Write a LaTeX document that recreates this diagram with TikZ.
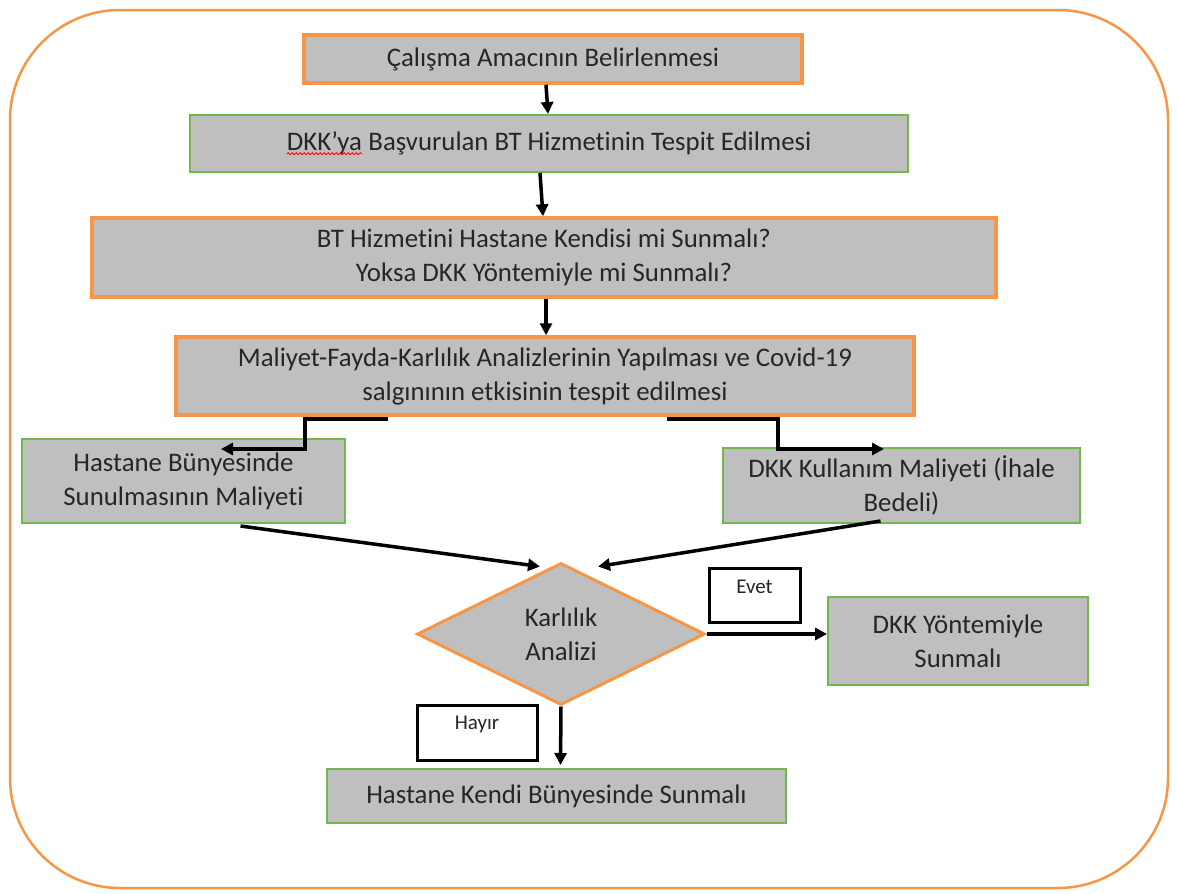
\documentclass[tikz,border=0pt]{standalone}
\usepackage{fontspec}
\setmainfont{Carlito}[Ligatures=NoCommon]
\usetikzlibrary{shapes.geometric,arrows.meta,calc,decorations.pathmorphing}
\definecolor{org}{HTML}{F79646}
\definecolor{grn}{HTML}{72B84C}
\definecolor{boxgray}{HTML}{BFBFBF}
\definecolor{txt}{HTML}{262626}
\newcommand{\wavyword}[1]{\tikz[baseline=(ww.base)]{\node[inner sep=0pt,outer sep=0pt,draw=none,fill=none,minimum width=0pt,minimum height=0pt,line width=0pt] (ww) {#1};\draw[red,line width=0.8pt,decorate,decoration={snake,amplitude=1pt,segment length=4pt}] ([yshift=-3pt]ww.base west) -- ([yshift=-3pt]ww.base east);}}
\begin{document}
\begin{tikzpicture}[x=1pt,y=-1pt,
 base/.style={fill=boxgray, text=txt, font=\fontsize{26.8}{34}\selectfont, align=center, inner sep=0pt},
 obox/.style={base, draw=org, line width=3.5pt},
 gbox/.style={base, draw=grn, line width=2pt},
 lblbox/.style={draw=black, line width=3pt, fill=white, inner sep=0pt},
 lbltext/.style={font=\fontsize{21}{23}\selectfont, text=txt, inner sep=0pt},
 arr/.style={draw=black, line width=3.5pt, -{Triangle[length=12pt,width=12pt]}},
]
\useasboundingbox (0,0) rectangle (1178,894);
\draw[org, line width=2.5pt, rounded corners=110pt] (10,10) rectangle (1168,888);

\node[obox, minimum width=498pt, minimum height=48pt] (b1) at (553,59) {Çalışma Amacının Belirlenmesi};
\node[gbox, minimum width=718pt, minimum height=57pt] (b2) at (549,143.5) {\wavyword{DKK’ya} Başvurulan BT Hizmetinin Tespit Edilmesi};
\node[obox, minimum width=904pt, minimum height=79pt] (b3) at (544,257.5) {BT Hizmetini Hastane Kendisi mi Sunmalı?\\Yoksa DKK Yöntemiyle mi Sunmalı?};
\node[obox, minimum width=738pt, minimum height=78pt] (b4) at (545,376) {Maliyet-Fayda-Karlılık Analizlerinin Yapılması ve Covid-19\\salgınının etkisinin tespit edilmesi};
\node[gbox, minimum width=323pt, minimum height=84pt] (b5) at (183.5,481) {Hastane Bünyesinde\\Sunulmasının Maliyeti};
\node[gbox, minimum width=357pt, minimum height=75pt] (b6) at (901.5,485.5) {DKK Kullanım Maliyeti (İhale\\Bedeli)};
\node[base, shape=diamond, draw=org, line width=3pt, minimum width=288pt, minimum height=142pt] (dia) at (561,634) {Karlılık\\Analizi};
\node[gbox, minimum width=260pt, minimum height=88pt] (b8) at (958,641) {DKK Yöntemiyle\\Sunmalı};
\node[gbox, minimum width=459pt, minimum height=54pt] (b9) at (556.5,796) {Hastane Kendi Bünyesinde Sunmalı};

\node[lblbox, minimum width=91pt, minimum height=54pt] (ev) at (754.5,595) {};
\node[lbltext] (evt) at ($(ev.north)+(0,20)$) {Evet};
\node[lblbox, minimum width=120pt, minimum height=55pt] (ha) at (477,732.5) {};
\node[lbltext] (hat) at ($(ha.north)+(0,21)$) {Hayır};

\draw[arr] ($(b1.south)+(-7,0)$) -- ($(b2.north)+(-1,0)$);
\draw[arr] ($(b2.south)+(-9,0)$) -- ($(b3.north)+(-1,0)$);
\draw[arr] ($(b3.south)+(2,0)$) -- ($(b4.north)+(1,0)$);
\draw[arr] ($(b4.south)+(-157,2)$) -- ++(-83,0) |- ($(b5.north east)+(-125,11)$);
\draw[arr] ($(b4.south)+(122,2)$) -- ++(111,0) |- ($(b6.north west)+(162,2)$);
\draw[arr] ($(b5.south)+(57,2)$) -- ($(dia.north)+(-21,5)$);
\draw[arr] ($(b6.south)+(-21,-3)$) -- ($(dia.north)+(37,5)$);
\draw[arr] (dia.east) -- ($(b8.west)+(0,-7)$);
\draw[arr] (dia.south) -- ($(b9.north)+(4,-3)$);
\end{tikzpicture}
\end{document}
